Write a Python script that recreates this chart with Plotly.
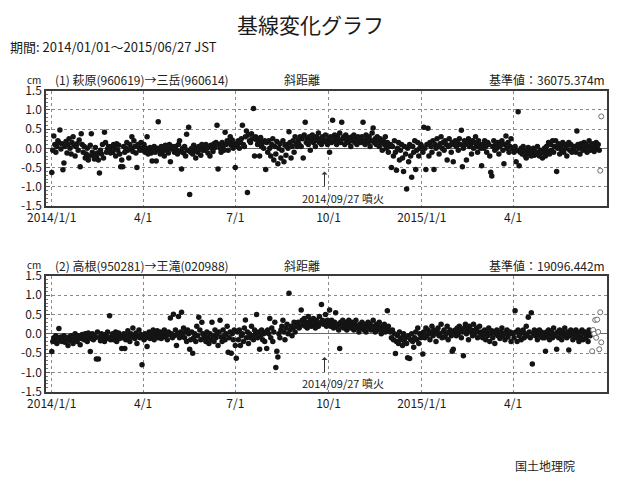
import plotly.graph_objects as go
import pandas as pd

START_DATE = "2014-01-01"
ERUPTION_DATE = "2014-09-27"
X_RANGE = ["2013-12-26 07:00", "2015-07-02 16:00"]

# (1) 萩原→三岳 斜距離 daily values (cm), 2014/01/01 .. 2015/06/27
top_cm = [
    -0.63,-0.05,0.32,0.1,-0.1,0.05,0.2,0.15,0.48,-0.02,0.12,-0.56,-0.38,0.05,0.18,-0.12,0.1,0.25,0.0,-0.15,0.15,0.3,0.08,-0.2,0.05,0.12,-0.05,0.22,-0.48,0.38,0.1,
    -0.1,0.05,-0.25,-0.15,0.0,-0.3,-0.2,0.08,0.38,-0.1,-0.18,-0.28,0.02,-0.22,-0.12,-0.3,-0.64,-0.05,-0.15,0.1,-0.25,0.42,0.15,-0.1,-0.02,0.05,0.0,-0.12,
    0.05,-0.1,0.1,0.0,-0.2,0.12,-0.05,0.08,-0.15,-0.48,-0.3,-0.48,0.05,-0.1,0.0,0.15,-0.05,-0.25,0.1,0.0,0.3,-0.08,0.2,0.05,-0.12,-0.5,0.1,0.02,-0.05,0.15,0.0,
    -0.05,0.1,-0.1,0.0,0.3,-0.15,-0.05,0.02,-0.12,-0.33,-0.08,0.05,-0.1,-0.33,0.0,0.69,-0.05,-0.15,0.05,-0.1,-0.02,-0.2,0.08,-0.05,0.0,-0.12,0.1,-0.35,-0.02,0.05,
    0.0,-0.1,0.05,-0.05,-0.15,0.1,0.2,-0.08,-0.54,0.0,-0.12,0.05,-0.2,0.37,-0.05,0.55,-1.2,-0.1,0.0,-0.15,0.08,-0.05,-0.25,0.02,-0.1,0.05,-0.02,-0.18,0.1,-0.05,0.0,
    -0.05,0.1,0.0,-0.12,0.05,-0.2,0.08,0.0,-0.08,0.12,0.02,0.15,0.6,-0.54,0.1,0.0,-0.1,0.15,0.05,-0.05,0.42,0.1,0.2,-0.05,0.15,0.3,0.08,0.22,0.0,0.12,
    -0.5,0.1,0.05,0.2,0.0,0.15,0.25,0.6,0.1,0.05,0.3,0.45,-1.15,0.35,0.2,0.15,0.38,0.25,1.04,-0.2,0.3,0.22,0.1,0.18,-0.2,0.28,0.05,0.15,0.0,0.2,-0.55,
    0.15,-0.1,0.2,0.0,-0.2,0.1,0.25,-0.3,0.05,-0.15,0.18,-0.4,0.0,0.12,-0.25,-0.05,0.2,-0.35,0.08,-0.18,0.1,0.0,0.43,0.15,-0.25,0.05,0.2,-0.1,0.3,0.12,0.05,
    0.2,0.1,0.3,0.05,0.25,-0.25,0.35,0.68,0.15,0.25,0.1,0.3,-0.05,0.2,0.35,0.15,0.25,0.05,0.3,0.2,0.4,0.15,0.25,0.1,0.3,0.22,0.18,0.35,0.2,0.1,
    0.25,-0.1,0.3,0.15,0.73,0.2,0.35,0.25,0.1,0.3,0.2,0.4,0.15,0.68,0.25,0.3,0.1,0.35,0.2,0.28,0.15,0.25,0.05,0.3,0.2,0.35,0.15,0.25,0.1,0.3,0.2,
    0.25,0.15,0.3,0.68,0.2,0.1,0.35,0.25,0.15,0.3,0.05,0.2,0.4,0.53,0.15,0.25,0.1,0.3,0.2,0.05,0.25,0.15,-0.05,0.2,0.1,0.3,0.0,0.15,-0.1,0.05,
    0.1,-0.5,0.05,-0.2,0.2,-0.1,-0.57,0.0,0.15,-0.3,-0.05,0.1,-0.25,-0.6,0.05,-0.15,-1.06,0.0,-0.35,0.1,-0.2,-0.75,0.05,-0.1,0.2,-0.55,-0.05,0.15,-0.2,0.0,0.1,
    0.05,-0.1,0.55,0.0,-0.55,0.1,0.52,-0.2,0.15,0.05,-0.1,0.2,-0.55,0.1,0.0,0.25,0.05,-0.15,0.12,0.3,0.0,0.15,-0.05,0.2,0.1,-0.3,0.05,0.25,0.08,-0.1,0.15,
    -0.35,0.1,0.2,0.05,0.15,-0.05,0.25,0.1,0.47,-0.48,0.0,0.2,0.1,-0.3,0.15,0.25,0.05,0.1,-0.15,0.2,0.0,0.15,0.3,0.05,-0.1,0.2,0.1,0.0,
    -0.45,0.1,0.0,0.2,0.05,-0.1,0.15,0.1,-0.2,-0.62,-0.72,0.05,0.2,-0.05,0.1,0.0,0.15,-0.15,0.05,0.1,0.2,-0.05,-0.4,0.1,0.32,0.0,0.15,-0.1,0.05,0.25,0.0,
    0.0,-0.1,0.05,-0.35,-0.05,0.95,-0.45,-0.1,0.0,-0.15,0.05,-0.05,-0.2,-0.25,-0.1,0.02,-0.15,-0.05,-0.2,-0.1,0.0,-0.18,-0.08,-0.15,0.05,-0.12,-0.2,-0.05,-0.1,-0.25,
    -0.1,0.0,-0.2,0.05,-0.08,0.15,-0.15,0.1,-0.05,0.2,-0.1,0.05,0.2,-0.6,0.0,0.12,-0.15,0.05,-0.05,0.15,-0.1,0.1,0.0,-0.2,0.08,0.15,-0.05,0.1,-0.1,0.05,0.0,
    0.05,-0.1,0.45,0.1,0.0,-0.15,0.12,0.05,-0.05,0.15,0.0,0.1,-0.1,0.05,0.2,-0.05,0.08,0.0,0.12,-0.08,0.05,0.15,0.0,0.1,-0.05,-0.58,0.83,
]

# (2) 高根→王滝 斜距離 daily values (cm), 2014/01/01 .. 2015/06/27
bot_cm = [
    -0.46,-0.2,-0.1,-0.15,-0.05,-0.25,-0.1,0.14,-0.18,-0.08,-0.2,-0.12,-0.05,-0.22,-0.15,-0.1,-0.3,-0.08,-0.18,-0.05,-0.12,-0.25,-0.1,0.0,-0.15,-0.2,-0.05,-0.1,-0.28,-0.12,-0.02,
    -0.05,-0.15,0.0,-0.1,-0.2,0.02,-0.08,-0.46,-0.12,0.0,-0.15,-0.05,-0.1,-0.65,0.05,-0.65,-0.08,-0.18,0.0,-0.1,-0.05,-0.2,-0.02,-0.12,0.05,-0.08,0.47,-0.15,
    -0.1,0.0,-0.15,-0.05,0.05,-0.2,-0.08,0.02,-0.12,-0.05,-0.38,-0.1,0.0,-0.38,-0.15,-0.05,0.08,-0.1,-0.2,0.0,-0.08,0.15,-0.05,-0.12,0.02,-0.25,-0.05,0.1,-0.1,-0.02,-0.8,
    -0.05,-0.15,0.0,-0.1,-0.33,-0.05,0.05,-0.12,-0.02,-0.08,0.1,-0.15,0.0,-0.05,0.08,-0.1,-0.02,0.05,-0.12,0.0,-0.05,0.1,-0.08,0.02,-0.15,0.05,-0.02,0.41,0.0,-0.1,
    0.51,-0.05,0.1,-0.3,0.0,0.45,-0.1,0.05,0.56,-0.05,0.15,-0.1,0.05,-0.2,0.1,0.0,-0.4,-0.15,0.05,-0.5,-0.1,0.0,-0.2,0.2,-0.05,0.43,0.1,-0.15,0.3,0.0,-0.1,
    -0.05,-0.2,0.05,-0.1,-0.25,0.0,-0.15,0.3,-0.05,-0.2,0.1,-0.1,0.0,-0.3,0.05,0.35,-0.08,-0.2,0.1,-0.05,-0.15,0.0,0.2,-0.48,-0.1,0.05,-0.5,0.0,-0.15,0.1,
    -0.3,-0.63,0.05,-0.15,0.1,-0.3,-0.05,0.0,-0.2,0.15,0.36,-0.1,0.05,-0.25,0.0,-0.1,0.2,-0.05,-0.15,0.1,0.0,0.5,-0.1,0.05,-0.4,-0.05,0.1,-0.15,0.0,-0.2,0.05,
    -0.38,0.1,0.0,0.4,-0.1,0.15,-0.2,0.05,0.3,-0.87,-0.45,-0.6,0.0,-0.1,0.1,0.2,0.35,0.05,-0.15,0.15,0.25,0.0,1.05,0.1,0.2,-0.05,0.15,0.3,0.05,0.2,0.25,
    0.3,0.15,0.2,0.62,0.35,0.25,0.4,0.2,0.3,0.15,0.45,0.25,0.35,0.2,0.3,0.4,0.25,0.15,0.35,0.3,0.2,0.45,0.28,0.76,0.35,0.25,0.3,0.5,0.2,0.35,
    0.3,0.62,0.2,0.35,0.25,0.15,0.3,0.55,0.2,0.25,0.1,-0.38,0.3,0.2,0.35,0.15,0.25,0.3,0.1,0.2,0.35,0.25,0.15,0.3,0.2,0.1,0.25,0.35,0.2,0.15,0.05,
    0.25,0.15,0.3,0.2,0.1,0.25,0.05,0.2,0.3,0.15,0.25,0.1,0.2,0.35,0.15,0.05,0.25,0.2,0.1,0.3,0.15,0.0,0.2,0.1,0.25,0.05,0.15,0.6,0.2,0.1,
    0.05,-0.1,0.1,-0.15,0.0,-0.51,-0.2,-0.05,-0.25,0.05,-0.15,-0.1,-0.3,0.0,-0.2,-0.1,-0.25,-0.62,-0.05,-0.64,-0.15,0.0,-0.2,-0.35,-0.1,0.05,-0.15,0.15,-0.25,0.0,-0.1,
    0.0,-0.52,0.05,-0.1,0.15,-0.05,0.1,0.0,-0.15,0.05,0.2,-0.05,0.1,0.0,-0.2,0.08,0.15,-0.05,0.0,0.25,-0.1,0.05,0.1,-0.08,0.0,0.2,-0.15,0.05,0.1,-0.05,-0.45,
    -0.4,0.05,0.1,-0.05,0.15,0.0,0.2,0.1,-0.1,0.05,-0.57,0.15,0.25,0.0,0.1,-0.15,0.2,0.05,0.1,-0.05,0.25,0.0,0.1,0.15,-0.1,0.05,0.2,0.0,
    0.05,-0.1,0.0,0.1,-0.15,0.05,-0.05,0.15,-0.2,0.0,0.08,-0.1,0.05,-0.25,0.0,0.1,-0.05,0.02,-0.12,0.05,0.15,-0.05,0.0,-0.15,0.05,0.1,-0.08,0.0,0.05,-0.2,0.02,
    0.0,-0.1,0.6,0.05,-0.2,0.1,-0.05,0.0,-0.15,0.05,0.1,-0.1,0.0,0.2,-0.05,0.43,0.05,-0.1,0.55,-0.78,0.0,0.1,-0.05,0.05,-0.15,0.0,0.1,-0.05,0.05,-0.1,
    0.0,-0.1,-0.45,0.05,-0.05,0.1,-0.15,0.0,0.05,-0.1,0.15,-0.05,0.0,-0.4,0.05,-0.1,0.1,0.0,-0.15,0.05,-0.05,0.15,0.0,-0.1,0.05,-0.42,-0.05,0.1,0.0,-0.15,0.05,
    -0.05,0.1,-0.1,0.0,-0.2,0.05,-0.08,0.1,-0.15,0.0,0.05,-0.1,0.0,-0.2,0.1,-0.05,0.0,-0.45,0.1,0.0,0.36,-0.1,0.37,0.05,-0.4,0.56,-0.22,
]

# number of trailing quick (preliminary) solutions drawn as open circles
N_QUICK_TOP = 2
N_QUICK_BOT = 10

tick_dates = ["2014-01-01", "2014-04-01", "2014-07-01", "2014-10-01", "2015-01-01", "2015-04-01"]
tick_labels = ["2014/1/1", "4/1", "7/1", "10/1", "2015/1/1", "4/1"]
y_ticks = [-1.5, -1.0, -0.5, 0.0, 0.5, 1.0, 1.5]
y_labels = ["-1.5", "-1.0", "-0.5", "0.0", "0.5", "1.0", "1.5"]

title_text = "基線変化グラフ"
period_text = "期間: 2014/01/01～2015/06/27 JST"
top_header = "(1) 萩原(960619)→三岳(960614)"
bot_header = "(2) 高根(950281)→王滝(020988)"
kind_text = "斜距離"
top_base = "基準値：36075.374m"
bot_base = "基準値：19096.442m"
eruption_label = "2014/09/27 噴火"
footer_text = "国土地理院"

FONT = "Noto Sans CJK JP, Noto Sans, sans-serif"
WIN_W, WIN_H = 617, 477
PAGE_OFFSET = 8  # default page margin around the plot div
W, H = WIN_W - PAGE_OFFSET, WIN_H - PAGE_OFFSET

top_dates = pd.date_range(START_DATE, periods=len(top_cm), freq="D")
bot_dates = pd.date_range(START_DATE, periods=len(bot_cm), freq="D")

fig = go.Figure()


def add_series(dates, vals, nq, xa, ya):
    n = len(vals) - nq
    fig.add_trace(go.Scatter(
        x=dates[:n], y=vals[:n], mode="markers", xaxis=xa, yaxis=ya,
        marker=dict(size=5.5, color="#141414", line=dict(width=0)),
        showlegend=False, hoverinfo="x+y"))
    fig.add_trace(go.Scatter(
        x=dates[n:], y=vals[n:], mode="markers", xaxis=xa, yaxis=ya,
        marker=dict(size=5, color="white", line=dict(width=1, color="#707070")),
        showlegend=False, hoverinfo="x+y"))


add_series(top_dates, top_cm, N_QUICK_TOP, "x", "y")
add_series(bot_dates, bot_cm, N_QUICK_BOT, "x2", "y2")


def px_x(p):
    return (p - PAGE_OFFSET) / W


def px_y(p):
    return 1 - (p - PAGE_OFFSET) / H


xdom = [px_x(46), px_x(607)]
top_dom = [px_y(206), px_y(90.7)]
bot_dom = [px_y(391.7), px_y(276)]

xcommon = dict(
    type="date", range=X_RANGE, tickmode="array", tickvals=tick_dates, ticktext=tick_labels,
    showgrid=True, gridcolor="#8a8a8a", griddash="dot", gridwidth=1,
    showline=True, mirror=True, linecolor="#3a3a3a", linewidth=1.6,
    ticks="", tickfont=dict(family=FONT, size=12, color="#1a1a1a"), zeroline=False,
    automargin=False,
)
ycommon = dict(
    range=[-1.5, 1.5], tickmode="array", tickvals=y_ticks, ticktext=y_labels,
    showgrid=True, gridcolor="#8a8a8a", griddash="dot", gridwidth=1,
    zeroline=True, zerolinecolor="#6a6a6a", zerolinewidth=1,
    showline=True, mirror=True, linecolor="#3a3a3a", linewidth=1.6,
    ticks="inside", ticklen=4, tickcolor="#555",
    minor=dict(ticks="inside", ticklen=2, dtick=0.1, tickcolor="#777", showgrid=False),
    tickfont=dict(family=FONT, size=12, color="#1a1a1a"),
    automargin=False,
)

fig.update_layout(
    width=W, height=H, margin=dict(l=0, r=0, t=0, b=0, autoexpand=False),
    paper_bgcolor="white", plot_bgcolor="white", showlegend=False,
    xaxis=dict(domain=xdom, anchor="y", **xcommon),
    yaxis=dict(domain=top_dom, anchor="x", **ycommon),
    xaxis2=dict(domain=xdom, anchor="y2", **xcommon),
    yaxis2=dict(domain=bot_dom, anchor="x2", **ycommon),
    font=dict(family=FONT, color="#222"),
)

ann = []
ann.append(dict(text=title_text, x=px_x(310), y=px_y(8), xref="paper", yref="paper",
                showarrow=False, xanchor="center", yanchor="top", borderpad=0,
                font=dict(size=21, family=FONT, color="#1a1a1a")))
ann.append(dict(text=period_text, x=px_x(8), y=px_y(47), xref="paper", yref="paper",
                showarrow=False, xanchor="left", yanchor="middle",
                font=dict(size=13, family=FONT, color="#1a1a1a")))

for hy, header, base in [(80, top_header, top_base), (265, bot_header, bot_base)]:
    ann.append(dict(text="cm", x=px_x(34), y=px_y(hy - 1), xref="paper", yref="paper",
                    showarrow=False, xanchor="center", yanchor="middle", borderpad=0,
                    font=dict(size=10, family=FONT, color="#222")))
    ann.append(dict(text=header, x=px_x(53), y=px_y(hy), xref="paper", yref="paper",
                    showarrow=False, xanchor="left", yanchor="middle",
                    font=dict(size=12, family=FONT, color="#222")))
    ann.append(dict(text=kind_text, x=px_x(282), y=px_y(hy), xref="paper", yref="paper",
                    showarrow=False, xanchor="left", yanchor="middle",
                    font=dict(size=12, family=FONT, color="#222")))
    ann.append(dict(text=base, x=px_x(607), y=px_y(hy), xref="paper", yref="paper",
                    showarrow=False, xanchor="right", yanchor="middle",
                    font=dict(size=12, family=FONT, color="#222")))

for xr, yr in [("x", "y"), ("x2", "y2")]:
    ann.append(dict(text="", x=ERUPTION_DATE, y=-0.6, ax=ERUPTION_DATE, ay=-1.03,
                    xref=xr, yref=yr, axref=xr, ayref=yr, showarrow=True,
                    arrowhead=1, arrowsize=1, arrowwidth=1, arrowcolor="#333"))
    ann.append(dict(text=eruption_label, x="2014-09-03", y=-1.28, xref=xr, yref=yr,
                    showarrow=False, xanchor="left", yanchor="middle",
                    font=dict(size=11, family=FONT, color="#222")))

ann.append(dict(text=footer_text, x=px_x(545), y=px_y(465), xref="paper", yref="paper",
                showarrow=False, xanchor="center", yanchor="middle",
                font=dict(size=12, family=FONT, color="#222")))

fig.update_layout(annotations=ann)
fig.write_html("out.html")
